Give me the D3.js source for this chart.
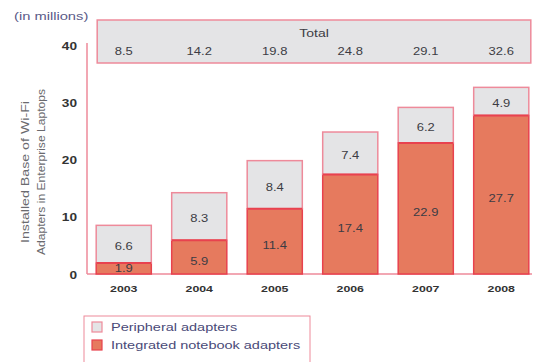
<!DOCTYPE html>
<html>
<head>
<meta charset="utf-8">
<script src="https://cdn.jsdelivr.net/npm/d3@7"></script>
<style>
  html, body { margin: 0; padding: 0; background: #fff; }
  svg { display: block; font-family: "Liberation Sans", Arial, sans-serif; }
</style>
</head>
<body>
<svg id="chart" width="540" height="362"></svg>
<script>
// Installed base of Wi-Fi adapters in enterprise laptops (millions)
const years = ["2003", "2004", "2005", "2006", "2007", "2008"];
const integrated = [1.9, 5.9, 11.4, 17.4, 22.9, 27.7];
const peripheral = [6.6, 8.3, 8.4, 7.4, 6.2, 4.9];
const totals = [8.5, 14.2, 19.8, 24.8, 29.1, 32.6];
const yTicks = [0, 10, 20, 30, 40];
const seriesNames = ["Peripheral adapters", "Integrated notebook adapters"];

const svg = d3.select("#chart");

const colors = {
  periFill: "#e4e4e6",
  periStroke: "#ee8a9a",
  intFill: "#e67a5e",
  intStroke: "#e8424e",
  axis: "#ee8a9a",
  text: "#3c3c44",
  legendText: "#4a4a78"
};

// the typeface used here is set wide; stretch glyphs horizontally
const WIDE = 1.3;
function label(parent, px, py, str, opts = {}) {
  const sx = opts.sx || WIDE;
  return parent.append("text")
    .attr("transform", `translate(${px},${py}) scale(${sx},1)`)
    .attr("text-anchor", opts.anchor || "middle")
    .attr("dy", opts.dy || null)
    .attr("font-size", opts.size || 10)
    .attr("font-weight", opts.weight || null)
    .attr("fill", opts.fill || colors.text)
    .text(str);
}

const x = d3.scaleBand().domain(years).range([86, 539]).paddingInner(0.27).paddingOuter(0.135);
const y = d3.scaleLinear().domain([0, 40]).range([274, 45]);

// y axis labels
const yAxis = d3.axisLeft(y).tickValues(yTicks).tickSize(0).tickPadding(0);
const gy = svg.append("g").attr("transform", "translate(77,0)").call(yAxis);
gy.select(".domain").remove();
gy.selectAll("text")
  .attr("font-size", 10.5).attr("font-weight", "bold").attr("fill", "#333")
  .attr("font-family", "Liberation Sans, Arial, sans-serif")
  .attr("dy", "0.4em")
  .attr("transform", `scale(${WIDE},1)`);

// axis lines
svg.append("line").attr("x1", 87).attr("x2", 87).attr("y1", 43).attr("y2", y(0))
  .attr("stroke", colors.axis).attr("stroke-width", 1.5);
svg.append("line").attr("x1", 87).attr("x2", 532).attr("y1", y(0)).attr("y2", y(0))
  .attr("stroke", colors.axis).attr("stroke-width", 1.5);

// y axis title (rotated)
const titleG = svg.append("g").attr("transform", "translate(29,172) rotate(-90)");
titleG.append("text").attr("text-anchor", "middle").attr("y", 0)
  .attr("font-size", 11).attr("fill", "#6a6a6e")
  .attr("textLength", 142).attr("lengthAdjust", "spacingAndGlyphs")
  .text("Installed Base of Wi-Fi");
titleG.append("text").attr("text-anchor", "middle").attr("y", 16)
  .attr("font-size", 11).attr("fill", "#6a6a6e")
  .attr("textLength", 166).attr("lengthAdjust", "spacingAndGlyphs")
  .text("Adapters in Enterprise Laptops");

label(svg, 14, 20, "(in millions)", { anchor: "start", size: 10.5, sx: 1.4, fill: "#5a5a88" });

// stacked bars
const bars = svg.append("g");
years.forEach((yr, i) => {
  const bx = x(yr), bw = x.bandwidth(), cx = bx + bw / 2;
  // integrated (bottom)
  bars.append("rect").attr("x", bx).attr("y", y(integrated[i]))
    .attr("width", bw).attr("height", y(0) - y(integrated[i]))
    .attr("fill", colors.intFill).attr("stroke", colors.intStroke).attr("stroke-width", 1.5);
  // peripheral (top)
  const top = integrated[i] + peripheral[i];
  bars.append("rect").attr("x", bx).attr("y", y(top))
    .attr("width", bw).attr("height", y(integrated[i]) - y(top))
    .attr("fill", colors.periFill).attr("stroke", colors.periStroke).attr("stroke-width", 1.5);
  // divider between segments
  bars.append("line").attr("x1", bx).attr("x2", bx + bw)
    .attr("y1", y(integrated[i])).attr("y2", y(integrated[i]))
    .attr("stroke", colors.intStroke).attr("stroke-width", 2);

  // value labels
  const intMid = (y(0) + y(integrated[i])) / 2 + (integrated[i] > 3 ? 4 : 0);
  label(bars, cx, intMid, integrated[i].toFixed(1), { dy: "0.35em" });
  const periMid = (y(integrated[i]) + y(top)) / 2 + 2.5;
  label(bars, cx, periMid, peripheral[i].toFixed(1), { dy: "0.35em" });

  // year labels
  label(svg, cx, 292, yr, { size: 9.5, weight: "bold", fill: "#333" });
});

// totals panel
const tx0 = x(years[0]) + 1, tx1 = x(years[years.length - 1]) + x.bandwidth() + 2;
svg.append("rect").attr("x", tx0).attr("y", 20).attr("width", tx1 - tx0).attr("height", 43)
  .attr("fill", "#e4e4e6").attr("stroke", colors.axis).attr("stroke-width", 1.5);
label(svg, (tx0 + tx1) / 2, 37, "Total", { sx: 1.4 });
years.forEach((yr, i) => {
  label(svg, x(yr) + x.bandwidth() / 2, 55, totals[i].toFixed(1));
});

// legend
const lg = svg.append("g");
lg.append("rect").attr("x", 84).attr("y", 316).attr("width", 226).attr("height", 52)
  .attr("fill", "none").attr("stroke", colors.axis).attr("stroke-width", 1);
const swatches = [
  { fill: colors.periFill, stroke: colors.periStroke },
  { fill: colors.intFill, stroke: colors.intStroke }
];
seriesNames.forEach((name, i) => {
  const ly = 322 + i * 18;
  lg.append("rect").attr("x", 92).attr("y", ly).attr("width", 10).attr("height", 10)
    .attr("fill", swatches[i].fill).attr("stroke", swatches[i].stroke).attr("stroke-width", 1.2);
  label(lg, 111, ly + 9, name, { anchor: "start", size: 10.5, sx: 1.38, fill: colors.legendText });
});
</script>
</body>
</html>
